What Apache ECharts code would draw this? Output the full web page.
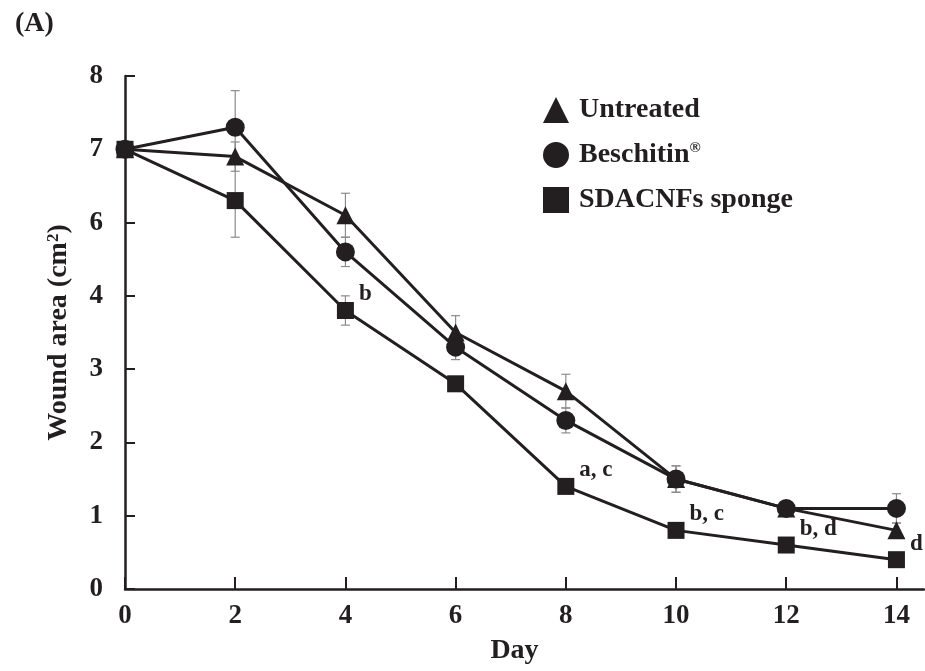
<!DOCTYPE html>
<html>
<head>
<meta charset="utf-8">
<title>Wound area</title>
<script src="https://cdn.jsdelivr.net/npm/echarts@6/dist/echarts.min.js"></script>
<style>
  html, body { margin: 0; padding: 0; background: #fff; }
  #chart { width: 925px; height: 671px; }
</style>
</head>
<body>
<div id="chart"></div>
<script>
// x axis: day
var days = [0, 2, 4, 6, 8, 10, 12, 14];
// y tick labels as printed in the figure (there is no "5")
var yTickLabels = ["0", "1", "2", "3", "4", "6", "7", "8"];
// values in y axis tick units (tick 0..7)
var untreated = [6, 5.9, 5.1, 3.5, 2.7, 1.5, 1.1, 0.8];
var untreatedErr = [0, 0.2, 0.3, 0.23, 0.23, 0.18, 0.05, 0.1];
var beschitin = [6, 6.3, 4.6, 3.3, 2.3, 1.5, 1.1, 1.1];
var beschitinErr = [0, 0.5, 0.2, 0.17, 0.17, 0.18, 0.05, 0.2];
var sponge = [6, 5.3, 3.8, 2.8, 1.4, 0.8, 0.6, 0.4];
var spongeErr = [0, 0.5, 0.2, 0.05, 0.05, 0.05, 0.05, 0.05];
// significance letters on the sponge series
var sigLabels = ["", "", "b", "", "a, c", "b, c", "b, d", "d"];

var ink = "#231f20";
var serif = "'Liberation Serif', 'DejaVu Serif', serif";

function points(values) {
  return days.map(function (d, i) { return [d, values[i]]; });
}

function errorBars(values, errs) {
  return {
    type: "custom",
    silent: true,
    z: 1,
    data: days.map(function (d, i) { return [d, values[i] - errs[i], values[i] + errs[i]]; }),
    renderItem: function (params, api) {
      if (api.value(2) - api.value(1) <= 0) return null;
      var lo = api.coord([api.value(0), api.value(1)]);
      var hi = api.coord([api.value(0), api.value(2)]);
      var cap = 4.5;
      var style = { stroke: "#8c8c8c", lineWidth: 1.2 };
      return {
        type: "group",
        children: [
          { type: "line", shape: { x1: lo[0], y1: lo[1], x2: hi[0], y2: hi[1] }, style: style },
          { type: "line", shape: { x1: lo[0] - cap, y1: lo[1], x2: lo[0] + cap, y2: lo[1] }, style: style },
          { type: "line", shape: { x1: hi[0] - cap, y1: hi[1], x2: hi[0] + cap, y2: hi[1] }, style: style }
        ]
      };
    }
  };
}

function lineSeries(name, values, symbol, size) {
  return {
    name: name,
    type: "line",
    data: points(values),
    symbol: symbol,
    symbolSize: size,
    z: 3,
    itemStyle: { color: ink, opacity: 1 },
    lineStyle: { color: ink, width: 3 }
  };
}

var myChart = echarts.init(document.getElementById("chart"));

var spongeSeries = lineSeries("SDACNFs sponge", sponge, "rect", 17);
spongeSeries.label = {
  show: true,
  position: "right",
  distance: 5,
  offset: [0, -16],
  color: ink,
  fontFamily: serif,
  fontWeight: "bold",
  fontSize: 23,
  formatter: function (p) { return sigLabels[p.dataIndex]; }
};

myChart.setOption({
  animation: false,
  title: {
    text: "(A)",
    left: 10,
    top: 5,
    textStyle: { color: ink, fontFamily: serif, fontWeight: "bold", fontSize: 28 }
  },
  legend: {
    orient: "vertical",
    left: 538,
    top: 91,
    itemWidth: 26,
    itemHeight: 26,
    itemGap: 17,
    selectedMode: false,
    data: [
      { name: "Untreated", icon: "triangle" },
      { name: "Beschitin®", icon: "circle" },
      { name: "SDACNFs sponge", icon: "rect" }
    ],
    formatter: function (name) { return name.replace("®", "{r|®}"); },
    textStyle: {
      color: ink,
      fontFamily: serif,
      fontWeight: "bold",
      fontSize: 28,
      lineHeight: 28,
      padding: [0, 0, 0, 5],
      rich: {
        r: { fontSize: 15, fontWeight: "bold", fontFamily: serif, color: ink, verticalAlign: "top" }
      }
    }
  },
  grid: { left: 125, right: 1, top: 76, bottom: 82 },
  xAxis: {
    type: "value",
    min: 0,
    max: 14.5,
    interval: 2,
    name: "Day",
    nameLocation: "middle",
    nameGap: 48,
    nameTextStyle: { color: ink, fontFamily: serif, fontWeight: "bold", fontSize: 28, padding: [0, 20, 0, 0] },
    axisLine: { lineStyle: { color: ink, width: 2.5 } },
    axisTick: { inside: true, length: 12, customValues: days, lineStyle: { color: ink, width: 2 } },
    axisLabel: { customValues: days, margin: 14, color: ink, fontFamily: serif, fontWeight: "bold", fontSize: 27 },
    splitLine: { show: false }
  },
  yAxis: {
    type: "value",
    min: 0,
    max: 7,
    interval: 1,
    name: "Wound area (cm{s|2})",
    nameLocation: "middle",
    nameGap: 52,
    nameTextStyle: {
      color: ink, fontFamily: serif, fontWeight: "bold", fontSize: 28,
      rich: { s: { fontSize: 17, fontWeight: "bold", fontFamily: serif, color: ink, verticalAlign: "top" } }
    },
    axisLine: { show: true, lineStyle: { color: ink, width: 2.5 } },
    axisTick: { show: true, inside: true, length: 10, lineStyle: { color: ink, width: 2 } },
    axisLabel: {
      margin: 22,
      color: ink,
      fontFamily: serif,
      fontWeight: "bold",
      fontSize: 27,
      formatter: function (v) { return yTickLabels[v]; }
    },
    splitLine: { show: false }
  },
  series: [
    errorBars(untreated, untreatedErr),
    errorBars(beschitin, beschitinErr),
    errorBars(sponge, spongeErr),
    lineSeries("Untreated", untreated, "triangle", 18),
    lineSeries("Beschitin®", beschitin, "circle", 19),
    spongeSeries
  ]
});
</script>
</body>
</html>
